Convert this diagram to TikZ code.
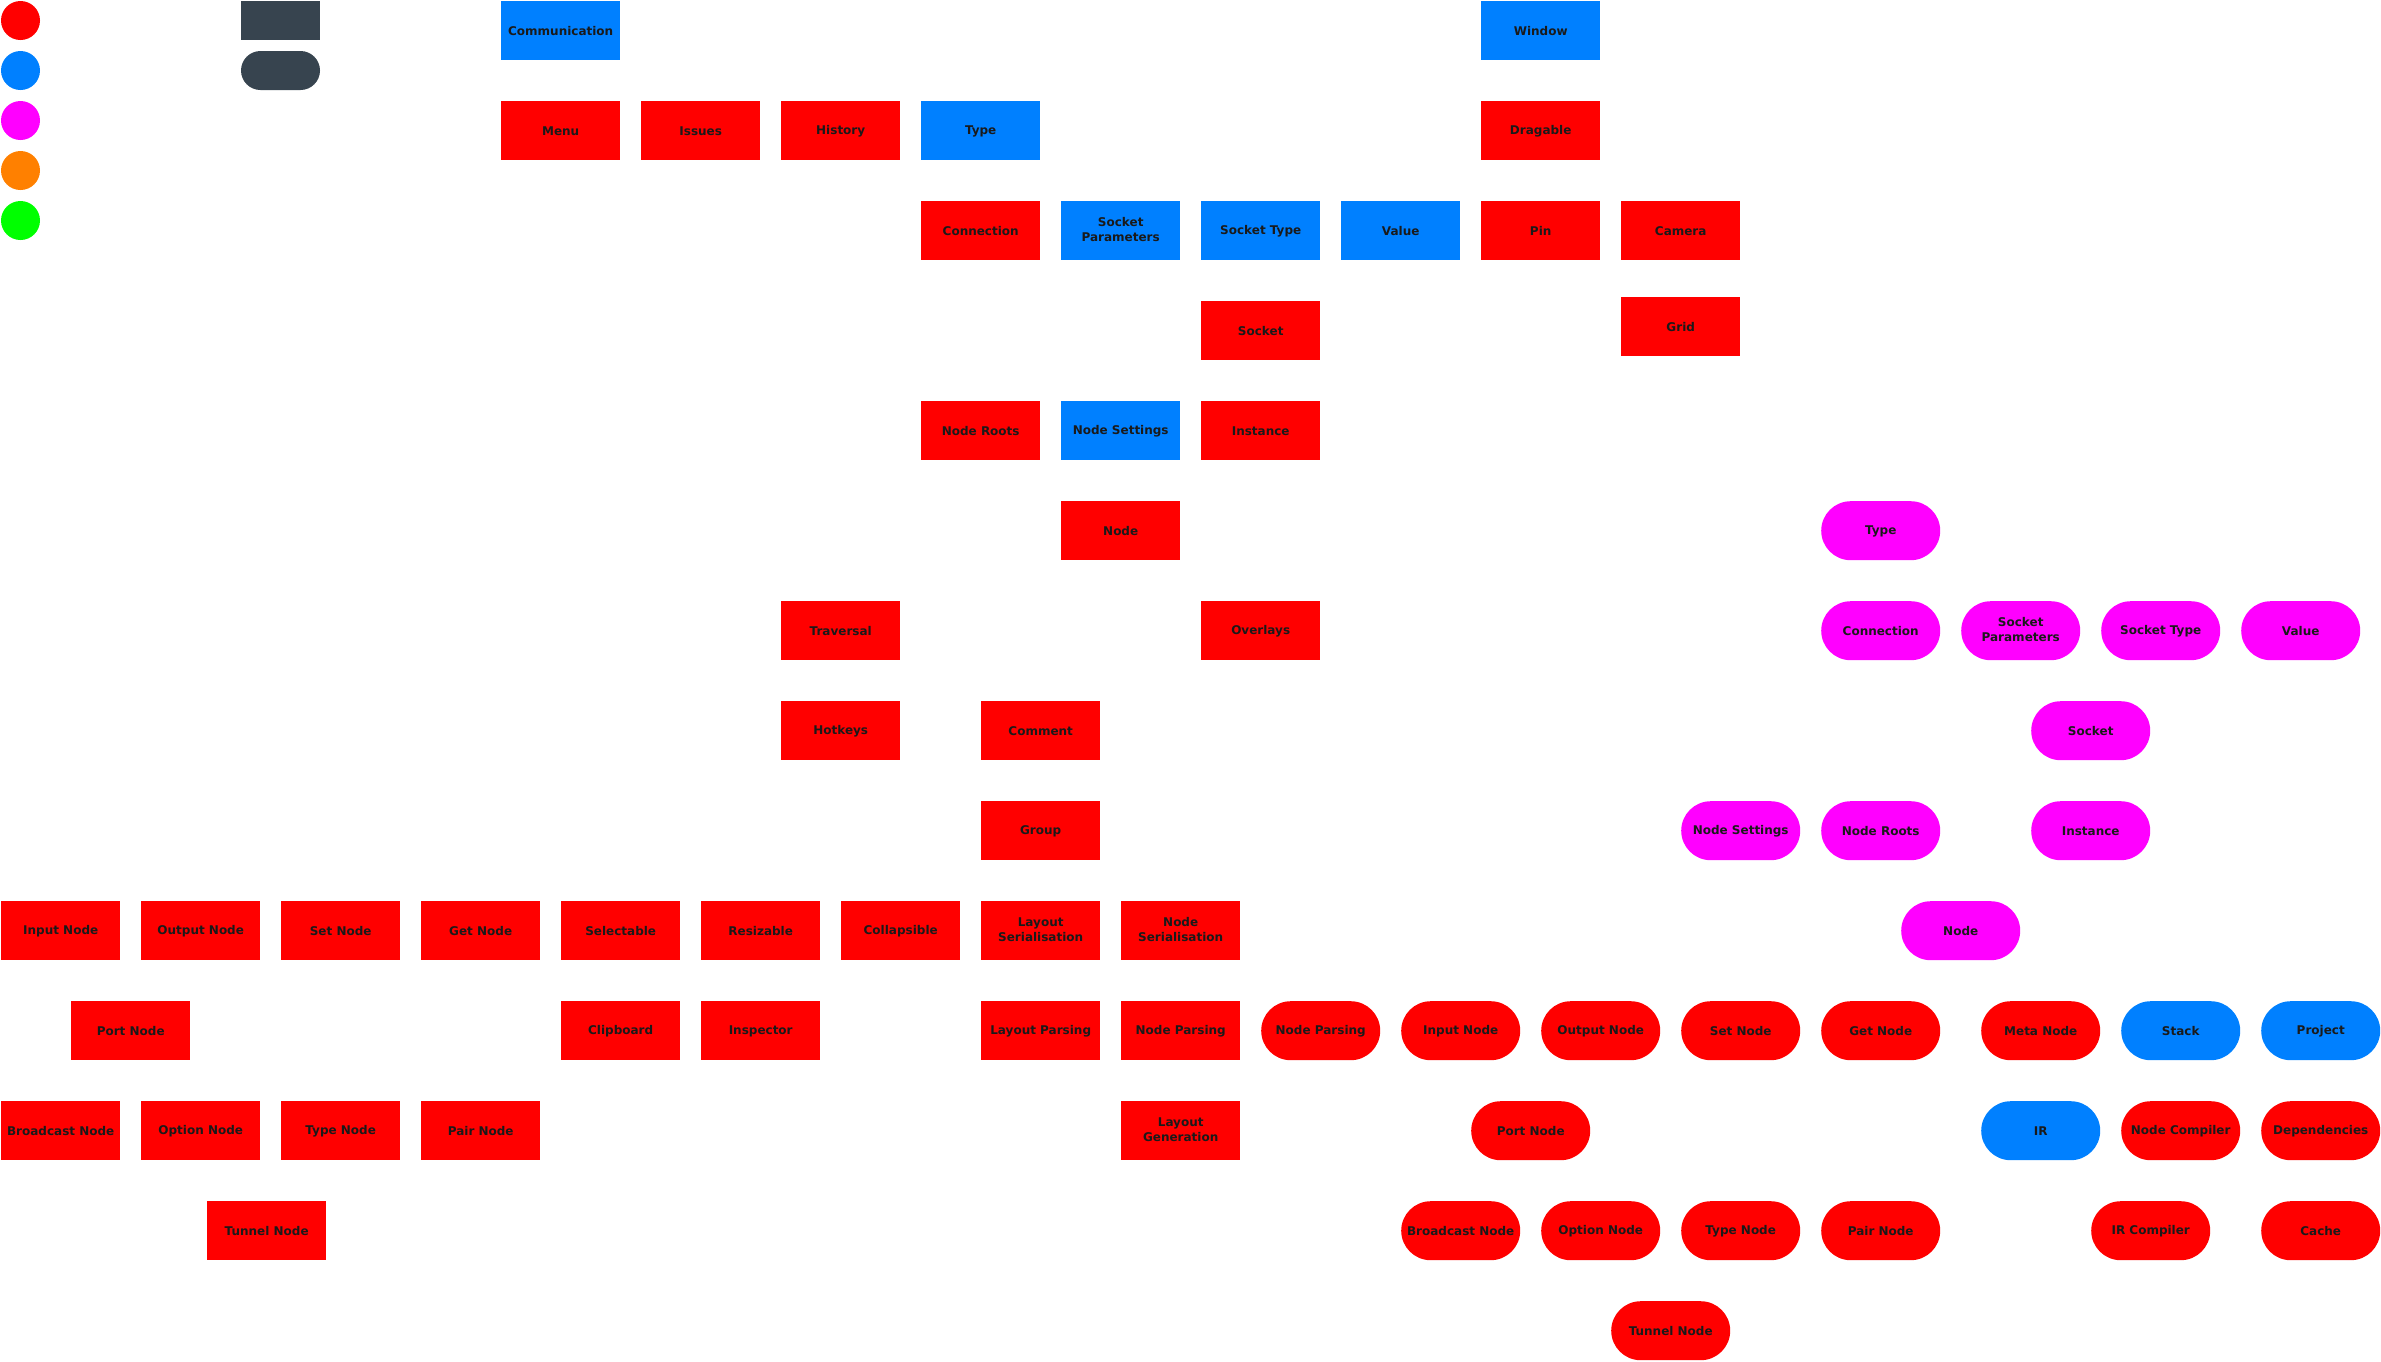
\documentclass[tikz,border=0pt]{standalone}
\usepackage{fontspec}
\newfontfamily\boxfont{DejaVu Sans}
\definecolor{cred}{RGB}{255, 0, 0}
\definecolor{cblue}{RGB}{0, 128, 255}
\definecolor{cmagenta}{RGB}{255, 0, 255}
\definecolor{corange}{RGB}{255, 128, 0}
\definecolor{cgreen}{RGB}{0, 255, 0}
\definecolor{cslate}{RGB}{55, 68, 79}
\definecolor{ctext}{RGB}{26, 26, 26}
\newcommand{\boxstrut}{\rule[-2.2pt]{0pt}{13.2pt}}
\usetikzlibrary{positioning}

\tikzset{
  box/.style={anchor=north west, minimum width=119pt, minimum height=59pt,
    inner sep=0pt, align=center, text=ctext,
    execute at begin node=\boxstrut, execute at end node=\boxstrut,
    font=\boxfont\bfseries\fontsize{12}{14.5}\selectfont},
  pill/.style={box, rounded corners=29.5pt},
  red/.style={fill=cred}, blue/.style={fill=cblue}, mag/.style={fill=cmagenta}
}

\begin{document}
\begin{tikzpicture}[x=1pt,y=-1pt]
        \useasboundingbox (0,0) rectangle (2381,1361);
        % legend
        \fill[cred] (20.5,20.5) circle (19.5);
        \fill[cblue] (20.5,70.5) circle (19.5);
        \fill[cmagenta] (20.5,120.5) circle (19.5);
        \fill[corange] (20.5,170.5) circle (19.5);
        \fill[cgreen] (20.5,220.5) circle (19.5);
        \fill[cslate] (241,1) rectangle (320,40);
        \fill[cslate, rounded corners=19.5pt] (241,51) rectangle (320,90);
        % editor
        \node[box,blue] (comm) at (501,1) {Communication};
        \node[box,blue] (window) at (1481,1) {Window};
        \node[box,red] (menu) at (501,101) {Menu};
        \node[box,red] (issues) at (641,101) {Issues};
        \node[box,red] (history) at (781,101) {History};
        \node[box,blue] (type) at (921,101) {Type};
        \node[box,red] (dragable) at (1481,101) {Dragable};
        \node[box,red] (conn) at (921,201) {Connection};
        \node[box,blue] (sockparam) at (1061,201) {Socket\\Parameters};
        \node[box,blue] (socktype) at (1201,201) {Socket Type};
        \node[box,blue] (value) at (1341,201) {Value};
        \node[box,red] (pin) at (1481,201) {Pin};
        \node[box,red] (camera) at (1621,201) {Camera};
        \node[box,red] (socket) at (1201,301) {Socket};
        \node[box,red] (grid) at (1621,297) {Grid};
        \node[box,red] (noderoots) at (921,401) {Node Roots};
        \node[box,blue] (nodesettings) at (1061,401) {Node Settings};
        \node[box,red] (instance) at (1201,401) {Instance};
        \node[box,red] (node) at (1061,501) {Node};
        \node[box,red] (traversal) at (781,601) {Traversal};
        \node[box,red] (overlays) at (1201,601) {Overlays};
        \node[box,red] (hotkeys) at (781,701) {Hotkeys};
        \node[box,red] (comment) at (981,701) {Comment};
        \node[box,red] (group) at (981,801) {Group};
        \node[box,red] (input) at (1,901) {Input Node};
        \node[box,red] (output) at (141,901) {Output Node};
        \node[box,red] (setn) at (281,901) {Set Node};
        \node[box,red] (getn) at (421,901) {Get Node};
        \node[box,red] (selectable) at (561,901) {Selectable};
        \node[box,red] (resizable) at (701,901) {Resizable};
        \node[box,red] (collapsible) at (841,901) {Collapsible};
        \node[box,red] (layoutser) at (981,901) {Layout\\Serialisation};
        \node[box,red] (nodeser) at (1121,901) {Node\\Serialisation};
        \node[box,red] (port) at (71,1001) {Port Node};
        \node[box,red] (clipboard) at (561,1001) {Clipboard};
        \node[box,red] (inspector) at (701,1001) {Inspector};
        \node[box,red] (layoutparse) at (981,1001) {Layout Parsing};
        \node[box,red] (nodeparse) at (1121,1001) {Node Parsing};
        \node[box,red] (broadcast) at (1,1101) {Broadcast Node};
        \node[box,red] (option) at (141,1101) {Option Node};
        \node[box,red] (typen) at (281,1101) {Type Node};
        \node[box,red] (pair) at (421,1101) {Pair Node};
        \node[box,red] (layoutgen) at (1121,1101) {Layout\\Generation};
        \node[box,red] (tunnel) at (207,1201) {Tunnel Node};
        % runtime
        \node[pill,mag] (mtype) at (1821,501) {Type};
        \node[pill,mag] (mconn) at (1821,601) {Connection};
        \node[pill,mag] (msockparam) at (1961,601) {Socket\\Parameters};
        \node[pill,mag] (msocktype) at (2101,601) {Socket Type};
        \node[pill,mag] (mvalue) at (2241,601) {Value};
        \node[pill,mag] (msocket) at (2031,701) {Socket};
        \node[pill,mag] (mnodesettings) at (1681,801) {Node Settings};
        \node[pill,mag] (mnoderoots) at (1821,801) {Node Roots};
        \node[pill,mag] (minstance) at (2031,801) {Instance};
        \node[pill,mag] (mnode) at (1901,901) {Node};
        \node[pill,red] (pnodeparse) at (1261,1001) {Node Parsing};
        \node[pill,red] (pinput) at (1401,1001) {Input Node};
        \node[pill,red] (poutput) at (1541,1001) {Output Node};
        \node[pill,red] (psetn) at (1681,1001) {Set Node};
        \node[pill,red] (pgetn) at (1821,1001) {Get Node};
        \node[pill,red] (pmeta) at (1981,1001) {Meta Node};
        \node[pill,blue] (stack) at (2121,1001) {Stack};
        \node[pill,blue] (project) at (2261,1001) {Project};
        \node[pill,red] (pport) at (1471,1101) {Port Node};
        \node[pill,blue] (ir) at (1981,1101) {IR};
        \node[pill,red] (nodecomp) at (2121,1101) {Node Compiler};
        \node[pill,red] (deps) at (2261,1101) {Dependencies};
        \node[pill,red] (pbroadcast) at (1401,1201) {Broadcast Node};
        \node[pill,red] (poption) at (1541,1201) {Option Node};
        \node[pill,red] (ptypen) at (1681,1201) {Type Node};
        \node[pill,red] (ppair) at (1821,1201) {Pair Node};
        \node[pill,red] (ircomp) at (2091,1201) {IR Compiler};
        \node[pill,red] (cache) at (2261,1201) {Cache};
        \node[pill,red] (ptunnel) at (1611,1301) {Tunnel Node};
      \end{tikzpicture}
\end{document}
